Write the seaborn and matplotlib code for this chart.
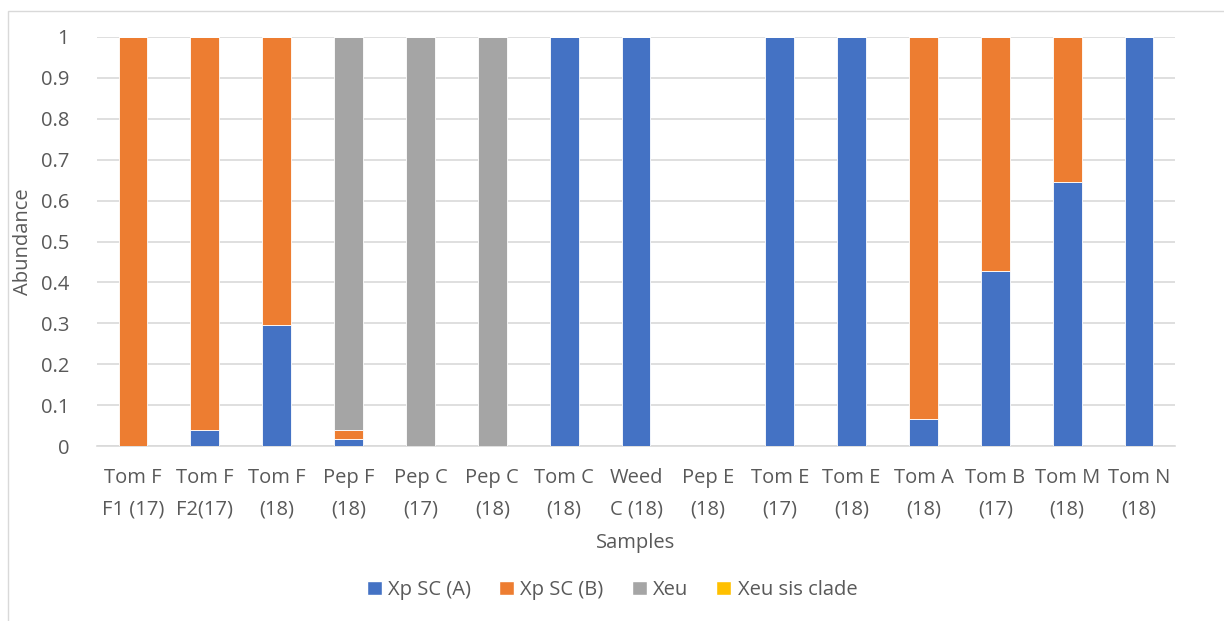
import numpy as np
import pandas as pd
import matplotlib
matplotlib.use("Agg")
import matplotlib.pyplot as plt
import seaborn as sns
from matplotlib.patches import Rectangle, Patch

samples = ["Tom F\nF1 (17)", "Tom F\nF2(17)", "Tom F\n(18)", "Pep F\n(18)", "Pep C\n(17)",
           "Pep C\n(18)", "Tom C\n(18)", "Weed\nC (18)", "Pep E\n(18)", "Tom E\n(17)",
           "Tom E\n(18)", "Tom A\n(18)", "Tom B\n(17)", "Tom M\n(18)", "Tom N\n(18)"]
xp_a = [0, 0.038, 0.295, 0.016, 0, 0, 1, 1, 0, 1, 1, 0.067, 0.428, 0.645, 1]
xp_b = [1, 0.962, 0.705, 0.024, 0, 0, 0, 0, 0, 0, 0, 0.933, 0.572, 0.355, 0]
xeu = [0, 0, 0, 0.96, 1, 1, 0, 0, 0, 0, 0, 0, 0, 0, 0]
xeu_sis = [0] * 15

series = ["Xp SC (A)", "Xp SC (B)", "Xeu", "Xeu sis clade"]
colors = ["#4472C4", "#ED7D31", "#A5A5A5", "#FFC000"]

sns.set_style("white")
plt.rcParams["font.family"] = ["Open Sans", "DejaVu Sans"]

fig = plt.figure(figsize=(12.24, 6.21), dpi=100)
ax = fig.add_axes([97 / 1224, 1 - 446 / 621, (1175 - 97) / 1224, (446 - 37) / 621])

df = pd.DataFrame({"sample": samples, "A": xp_a, "B": xp_b, "Xeu": xeu, "Sis": xeu_sis})
bottom = np.zeros(len(samples))
for col, name, c in zip(["A", "B", "Xeu", "Sis"], series, colors):
    sns.barplot(data=df, x="sample", y=col, color=c, saturation=1, bottom=bottom, width=0.4,
                edgecolor="white", linewidth=0.6, ax=ax, zorder=3)
    bottom = bottom + df[col].values

ax.set_ylim(0, 1)
ax.set_xlim(-0.5, len(samples) - 0.5)
ax.set_yticks(np.arange(0, 1.01, 0.1))
ax.set_yticklabels(["0"] + [f"{v:.1f}" for v in np.arange(0.1, 0.95, 0.1)] + ["1"])
ax.yaxis.grid(True, color="#D9D9D9", linewidth=1.2, zorder=0)
ax.set_axisbelow(True)
for s in ["top", "right", "left"]:
    ax.spines[s].set_visible(False)
ax.spines["bottom"].set_color("#D9D9D9")
ax.spines["bottom"].set_linewidth(1.2)
ax.tick_params(axis="both", length=0, labelsize=14.5, labelcolor="#595959")
ax.tick_params(axis="x", pad=16)
ax.tick_params(axis="y", pad=20)
for lab in ax.get_xticklabels():
    lab.set_linespacing(1.75)
ax.set_xlabel("Samples", fontsize=14.5, color="#595959", labelpad=10)
ax.set_ylabel("Abundance", fontsize=14.5, color="#595959")
ax.yaxis.set_label_coords(-0.059, 0.5)

handles = [Patch(facecolor=c, label=n) for n, c in zip(series, colors)]
fig.legend(handles=handles, loc="center", bbox_to_anchor=(0.5, 1 - 590 / 621), ncol=4,
           frameon=False, fontsize=14.5, labelcolor="#595959", handlelength=0.75,
           handleheight=0.75, handletextpad=0.3, columnspacing=1.4)

fig.patches.append(Rectangle((8 / 1224, -0.01), 1.02, 1 - 11 / 621 + 0.01, transform=fig.transFigure,
                             fill=False, edgecolor="#D9D9D9", linewidth=1))

fig.savefig("out.png", dpi=100)
